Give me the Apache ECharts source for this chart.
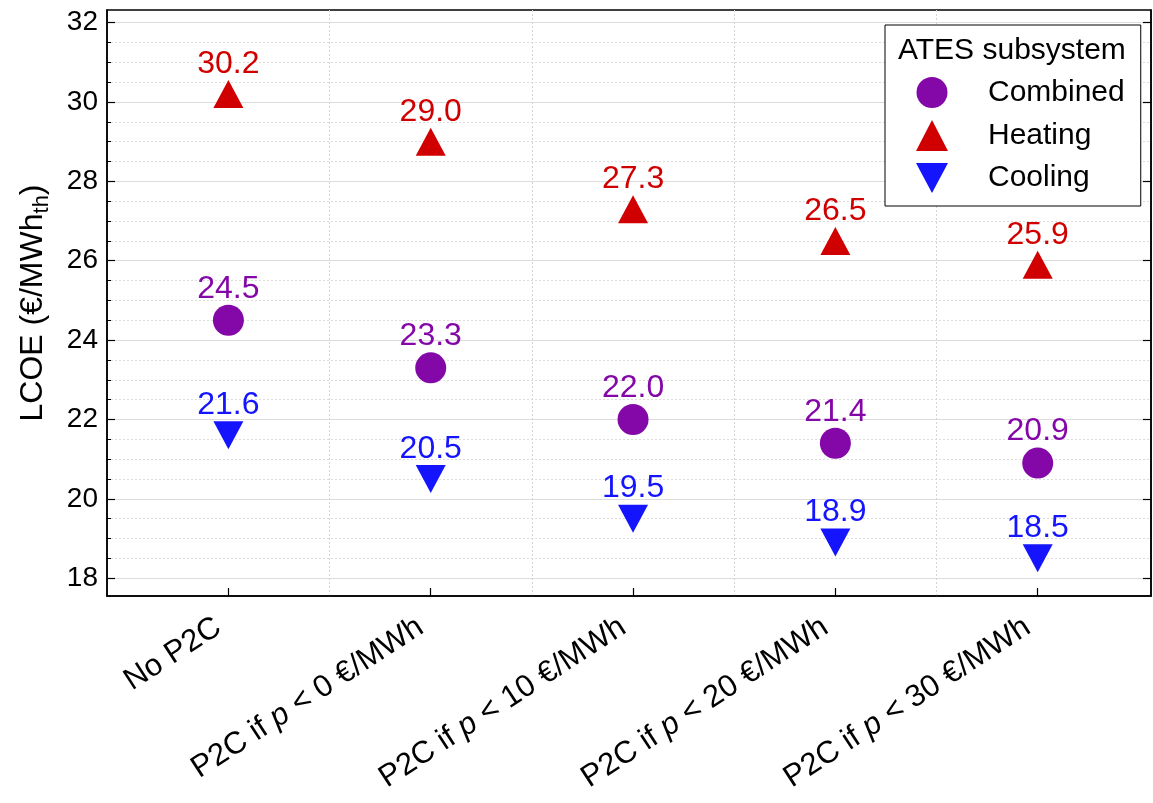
<!DOCTYPE html>
<html>
<head>
<meta charset="utf-8">
<script src="https://cdn.jsdelivr.net/npm/echarts@6/dist/echarts.min.js"></script>
<style>
  html, body { margin: 0; padding: 0; background: #fff; }
  #chart { width: 1153px; height: 803px; }
</style>
</head>
<body>
<div id="chart"></div>
<script>
var categories = [
    'No P2C',
    'P2C if {i|p} < 0 €/MWh',
    'P2C if {i|p} < 10 €/MWh',
    'P2C if {i|p} < 20 €/MWh',
    'P2C if {i|p} < 30 €/MWh'
];
var combined = [24.5, 23.3, 22.0, 21.4, 20.9];
var heating = [30.2, 29.0, 27.3, 26.5, 25.9];
var cooling = [21.6, 20.5, 19.5, 18.9, 18.5];
var majorTicks = [18, 20, 22, 24, 26, 28, 30, 32];
var minorTicks = [18.5, 19, 19.5, 20.5, 21, 21.5, 22.5, 23, 23.5, 24.5, 25, 25.5,
    26.5, 27, 27.5, 28.5, 29, 29.5, 30.5, 31, 31.5];
var catTicks = [0, 1, 2, 3, 4];
var midTicks = [0.5, 1.5, 2.5, 3.5];

var FONT = '"Liberation Sans", Arial, sans-serif';
var colors = { combined: '#8408a8', heating: '#d00000', cooling: '#1414ff' };
var yMin = 17.55, yMax = 32.32;
var xMin = -0.6, xMax = 4.56;

var toPoints = function (arr) {
    return arr.map(function (v, i) { return [i, v]; });
};

var makeSeries = function (name, arr, symbol, size, color) {
    return {
        name: name,
        type: 'scatter',
        data: toPoints(arr),
        symbol: symbol,
        symbolSize: size,
        itemStyle: { color: color, opacity: 1 },
        label: {
            show: true,
            position: 'top',
            distance: 0,
            color: color,
            fontSize: 32,
            fontFamily: FONT,
            formatter: function (p) { return p.value[1].toFixed(1); }
        },
        emphasis: { disabled: true },
        z: 5
    };
};

var chart = echarts.init(document.getElementById('chart'), null, { renderer: 'canvas' });

chart.setOption({
    animation: false,
    backgroundColor: '#fff',
    textStyle: { fontFamily: FONT },
    grid: {
        left: 107, right: 2, top: 10, bottom: 207,
        show: true, borderColor: '#000', borderWidth: 1.5, backgroundColor: 'transparent'
    },
    title: {
        text: 'ATES subsystem',
        left: 898, top: 36, padding: 0,
        textStyle: { fontSize: 30, fontWeight: 'normal', color: '#000', fontFamily: FONT },
        z: 10
    },
    legend: {
        orient: 'vertical',
        left: 885, top: 25,
        padding: [52, 16, 13, 31],
        itemWidth: 32, itemHeight: 31,
        itemGap: 12,
        align: 'left',
        borderColor: '#000', borderWidth: 1, borderRadius: 0,
        backgroundColor: '#fff',
        selectedMode: false,
        textStyle: { fontSize: 30, color: '#000', fontFamily: FONT, padding: [0, 0, 0, 35] },
        data: ['Combined', 'Heating', 'Cooling'],
        z: 8
    },
    xAxis: [{
        type: 'value', min: xMin, max: xMax, position: 'bottom',
        axisLine: { show: true, onZero: false, lineStyle: { color: '#000', width: 1.5 } },
        axisTick: { show: true, inside: true, length: 8, customValues: catTicks, lineStyle: { color: '#000', width: 1.2 } },
        axisLabel: {
            customValues: catTicks,
            rotate: 33, margin: 22,
            padding: [0, 12, 0, 0],
            fontSize: 31, color: '#000', fontFamily: FONT,
            formatter: function (v) { return categories[Math.round(v)]; },
            rich: { i: { fontStyle: 'italic', fontSize: 31, color: '#000', fontFamily: FONT } }
        },
        splitLine: { show: false }
    }, {
        type: 'value', min: xMin, max: xMax, position: 'bottom',
        axisLine: { show: false, onZero: false },
        axisTick: { show: false, customValues: midTicks },
        axisLabel: { show: false, customValues: midTicks },
        splitLine: { show: true, lineStyle: { color: '#d4d4d4', width: 1, type: [2, 2] } }
    }],
    yAxis: [{
        type: 'value', min: yMin, max: yMax, position: 'left',
        name: '{a|LCOE (€/MWh}{s|th}{a|)}',
        nameLocation: 'middle', nameGap: 54,
        nameTextStyle: {
            rich: {
                a: { fontSize: 32, color: '#000', fontFamily: FONT, lineHeight: 40 },
                s: { fontSize: 22, color: '#000', fontFamily: FONT, lineHeight: 22, verticalAlign: 'bottom' }
            }
        },
        axisLine: { show: true, onZero: false, lineStyle: { color: '#000', width: 1.5 } },
        axisTick: { show: true, inside: true, length: 8, customValues: majorTicks, lineStyle: { color: '#000', width: 1.2 } },
        axisLabel: { customValues: majorTicks, margin: 9, fontSize: 28, color: '#000', fontFamily: FONT },
        splitLine: { show: true, lineStyle: { color: '#dcdcdc', width: 1.2 } }
    }, {
        type: 'value', min: yMin, max: yMax, position: 'left',
        axisLine: { show: false, onZero: false },
        axisTick: { show: true, inside: true, length: 4, customValues: minorTicks, lineStyle: { color: '#000', width: 1 } },
        axisLabel: { show: false, customValues: minorTicks },
        splitLine: { show: true, lineStyle: { color: '#dcdcdc', width: 1, type: [2, 2] } }
    }, {
        type: 'value', min: yMin, max: yMax, position: 'right',
        axisLine: { show: true, onZero: false, lineStyle: { color: '#000', width: 1.5 } },
        axisTick: { show: true, inside: true, length: 8, customValues: majorTicks, lineStyle: { color: '#000', width: 1.2 } },
        axisLabel: { show: false, customValues: majorTicks },
        splitLine: { show: false }
    }],
    series: [
        makeSeries('Combined', combined, 'circle', 31, colors.combined),
        makeSeries('Heating', heating, 'triangle', [30, 28], colors.heating),
        makeSeries('Cooling', cooling, 'path://M0,0L2,0L1,1.87Z', [30, 28], colors.cooling)
    ]
});
</script>
</body>
</html>
